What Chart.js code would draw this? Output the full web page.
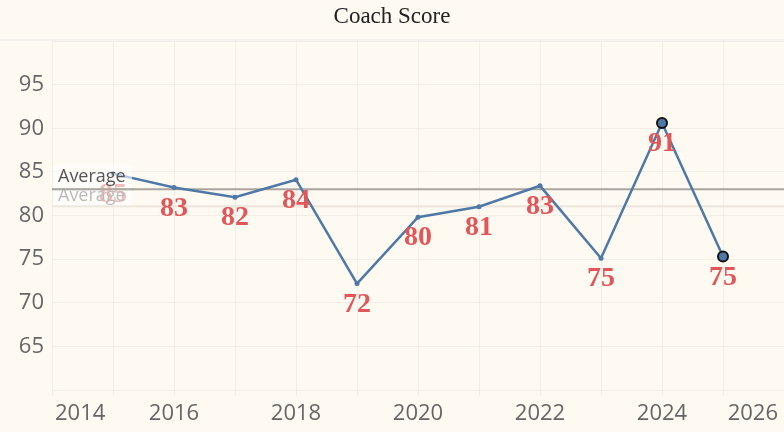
<!DOCTYPE html>
<html><head><meta charset="utf-8">
<script src="https://cdn.jsdelivr.net/npm/chart.js@4.4.0/dist/chart.umd.min.js"></script>
<style>html,body{margin:0;padding:0;background:#fef9f1;} #wrap{width:784px;height:432px;position:relative;}</style>
</head><body><div id="wrap"><canvas id="c"></canvas></div>
<script>
const years = [2015, 2016, 2017, 2018, 2019, 2020, 2021, 2022, 2023, 2024, 2025];
const scores = [84.8, 83.2, 82.1, 84.1, 72.2, 79.8, 81.0, 83.4, 75.1, 90.6, 75.3];
const xTickLabels = [2014, 2016, 2018, 2020, 2022, 2024, 2026];
const yTickLabels = [65, 70, 75, 80, 85, 90, 95];
const referenceLine = 83.0;
const meanLine = 81.05;
const chartTitle = 'Coach Score';
const refLabel = 'Average';

const BG = '#fef9f1';
const TICK_FONT = '22px "Open Sans"';

const decor = {
  id: 'decor',
  beforeDraw(chart) {
    const c = chart.ctx;
    c.save();
    c.fillStyle = BG;
    c.fillRect(0, 0, chart.width, chart.height);
    c.fillStyle = '#222';
    c.font = '23px "Liberation Serif"';
    c.textAlign = 'center';
    c.textBaseline = 'middle';
    c.fillText(chartTitle, chart.width / 2, 17);
    c.restore();
  },
  beforeDatasetsDraw(chart) {
    const c = chart.ctx, a = chart.chartArea, y = chart.scales.y;
    c.save();
    c.strokeStyle = '#f4f2ee';
    c.lineWidth = 2;
    c.beginPath(); c.moveTo(0, a.top - 1); c.lineTo(chart.width, a.top - 1); c.stroke();
    c.strokeStyle = '#ece6dc';
    c.lineWidth = 2;
    const ym = y.getPixelForValue(meanLine);
    c.beginPath(); c.moveTo(a.left, ym); c.lineTo(a.right, ym); c.stroke();
    c.strokeStyle = '#aaa59e';
    const yr = y.getPixelForValue(referenceLine);
    c.beginPath(); c.moveTo(a.left, yr); c.lineTo(a.right, yr); c.stroke();
    c.restore();
  },
  afterDatasetsDraw(chart) {
    const c = chart.ctx, a = chart.chartArea, xs = chart.scales.x, ys = chart.scales.y;
    c.save();
    c.font = 'bold 28px "Liberation Serif"';
    c.fillStyle = '#e15759';
    c.textAlign = 'center';
    c.textBaseline = 'middle';
    years.forEach((yr, i) => {
      const px = xs.getPixelForValue(yr), py = ys.getPixelForValue(scores[i]);
      c.fillText(String(Math.round(scores[i])), px, py + 21);
    });
    const ym = ys.getPixelForValue(meanLine);
    const yr = ys.getPixelForValue(referenceLine);
    c.font = '18px "Open Sans"';
    c.textAlign = 'left';
    c.fillStyle = '#555';
    c.fillText(refLabel, a.left + 6, ym - 10);
    c.fillStyle = 'rgba(255,255,255,0.6)';
    c.fillRect(a.left + 1, yr - 24, 79, 40);
    c.strokeStyle = '#aaa59e';
    c.lineWidth = 2;
    c.beginPath(); c.moveTo(a.left, yr); c.lineTo(a.left + 82, yr); c.stroke();
    c.fillStyle = '#555';
    c.fillText(refLabel, a.left + 6, yr - 12);
    c.restore();
  },
  afterDraw(chart) {
    const c = chart.ctx, a = chart.chartArea, xs = chart.scales.x;
    c.save();
    c.font = TICK_FONT;
    c.fillStyle = '#666';
    c.textAlign = 'center';
    c.textBaseline = 'middle';
    xTickLabels.forEach(v => {
      const t = String(v);
      const w = c.measureText(t).width;
      let px = xs.getPixelForValue(v);
      px = Math.max(px, a.left + w / 2 + 3);
      px = Math.min(px, chart.width - w / 2 - 6);
      c.fillText(t, px, a.bottom + 24);
    });
    c.restore();
  }
};

new Chart(document.getElementById('c'), {
  type: 'line',
  data: {
    datasets: [{
      data: years.map((yr, i) => ({ x: yr, y: scores[i] })),
      borderColor: '#4e79a7',
      borderWidth: 2.5,
      backgroundColor: '#4e79a7',
      pointRadius: ctx => ctx.dataIndex >= years.length - 2 ? 5 : 2.5,
      pointBorderWidth: ctx => ctx.dataIndex >= years.length - 2 ? 2 : 0,
      pointBorderColor: ctx => ctx.dataIndex >= years.length - 2 ? '#111' : '#4e79a7',
      pointBackgroundColor: '#4e79a7',
      tension: 0
    }]
  },
  options: {
    responsive: true,
    maintainAspectRatio: false,
    animation: false,
    devicePixelRatio: 1,
    layout: { autoPadding: false, padding: { top: 41, left: 0, right: 0, bottom: 0 } },
    plugins: { legend: { display: false }, title: { display: false }, tooltip: { enabled: false } },
    scales: {
      x: {
        type: 'linear', min: 2014, max: 2026,
        ticks: { display: false, stepSize: 1 },
        grid: { color: 'rgba(0,0,0,0.045)', drawTicks: true, tickLength: 6 },
        border: { display: false },
        afterFit(s) { s.height = 42; }
      },
      y: {
        min: 60, max: 100,
        ticks: {
          stepSize: 5,
          padding: 8,
          color: '#666',
          font: { family: '"Open Sans"', size: 22 },
          callback: v => yTickLabels.includes(v) ? String(v) : ''
        },
        grid: { color: 'rgba(0,0,0,0.045)', drawTicks: false },
        border: { display: false },
        afterFit(s) { s.width = 52; }
      }
    }
  },
  plugins: [decor]
});
</script>
</body></html>
